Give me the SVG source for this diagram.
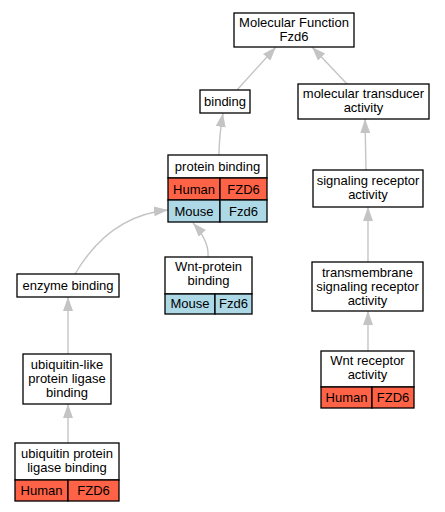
<svg xmlns="http://www.w3.org/2000/svg" width="445" height="512" viewBox="0 0 445 512">
<defs>
<style>
text{font-family:"Liberation Sans",Arial,sans-serif;font-size:13px;text-anchor:middle;fill:#000}
.box{fill:#fff;stroke:#000;stroke-width:1.3}
.hu{fill:#ff6347;stroke:#000;stroke-width:1.3}
.mo{fill:#add8e6;stroke:#000;stroke-width:1.3}
.e{fill:none;stroke:#c4c4c4;stroke-width:1.4}
</style>
<marker id="ah" viewBox="0 0 14 10" refX="14" refY="5" markerWidth="14" markerHeight="10" markerUnits="userSpaceOnUse" orient="auto">
<path d="M0,0 L14,5 L0,10 Z" fill="#c4c4c4"/>
</marker>
</defs>
<rect width="445" height="512" fill="#fff"/>
<g id="edges">
<path class="e" marker-end="url(#ah)" d="M237,90 L276,47"/>
<path class="e" marker-end="url(#ah)" d="M347,84 L312,47"/>
<path class="e" marker-end="url(#ah)" d="M219,155 C219,140 221,125 223,113"/>
<path class="e" marker-end="url(#ah)" d="M75,274 C95,240 125,214 168,210"/>
<path class="e" marker-end="url(#ah)" d="M208,257 C209,245 203,234 193,223"/>
<path class="e" marker-end="url(#ah)" d="M68,354 L68,297"/>
<path class="e" marker-end="url(#ah)" d="M68,443 L68,404"/>
<path class="e" marker-end="url(#ah)" d="M366,170 L365,119"/>
<path class="e" marker-end="url(#ah)" d="M368,262 L368,207"/>
<path class="e" marker-end="url(#ah)" d="M368,351 L368,311"/>
</g>
<g id="mf">
<rect class="box" x="234" y="13" width="120" height="34"/>
<text x="294" y="27">Molecular Function</text>
<text x="294" y="41">Fzd6</text>
</g>
<g id="binding">
<rect class="box" x="200" y="90" width="50" height="23"/>
<text x="225" y="106">binding</text>
</g>
<g id="mta">
<rect class="box" x="298" y="84" width="131" height="35"/>
<text x="363.5" y="98">molecular transducer</text>
<text x="363.5" y="112">activity</text>
</g>
<g id="pb">
<rect class="box" x="168" y="155" width="99" height="23"/>
<text x="217.5" y="171">protein binding</text>
<rect class="hu" x="168" y="178" width="52" height="22"/>
<rect class="hu" x="220" y="178" width="47" height="22"/>
<text x="194" y="194">Human</text>
<text x="243.5" y="194">FZD6</text>
<rect class="mo" x="168" y="200" width="52" height="22"/>
<rect class="mo" x="220" y="200" width="47" height="22"/>
<text x="194" y="216">Mouse</text>
<text x="243.5" y="216">Fzd6</text>
</g>
<g id="wpb">
<rect class="box" x="165" y="257" width="87" height="37"/>
<text x="208.5" y="271">Wnt-protein</text>
<text x="208.5" y="285">binding</text>
<rect class="mo" x="165" y="294" width="50" height="20"/>
<rect class="mo" x="215" y="294" width="37" height="20"/>
<text x="190" y="308">Mouse</text>
<text x="233.5" y="308">Fzd6</text>
</g>
<g id="eb">
<rect class="box" x="17" y="274" width="102" height="23"/>
<text x="68" y="290">enzyme binding</text>
</g>
<g id="ulb">
<rect class="box" x="23" y="354" width="88" height="50"/>
<text x="67" y="369">ubiquitin-like</text>
<text x="67" y="383">protein ligase</text>
<text x="67" y="397">binding</text>
</g>
<g id="uplb">
<rect class="box" x="15" y="443" width="104" height="37"/>
<text x="67" y="458">ubiquitin protein</text>
<text x="67" y="472">ligase binding</text>
<rect class="hu" x="15" y="480" width="53" height="21"/>
<rect class="hu" x="68" y="480" width="51" height="21"/>
<text x="41.5" y="495">Human</text>
<text x="93.5" y="495">FZD6</text>
</g>
<g id="sra">
<rect class="box" x="313" y="170" width="110" height="37"/>
<text x="368" y="185">signaling receptor</text>
<text x="368" y="199">activity</text>
</g>
<g id="tsra">
<rect class="box" x="312" y="262" width="111" height="49"/>
<text x="367.5" y="277">transmembrane</text>
<text x="367.5" y="291">signaling receptor</text>
<text x="367.5" y="305">activity</text>
</g>
<g id="wra">
<rect class="box" x="321" y="351" width="93" height="36"/>
<text x="367.5" y="365">Wnt receptor</text>
<text x="367.5" y="379">activity</text>
<rect class="hu" x="321" y="387" width="51" height="21"/>
<rect class="hu" x="372" y="387" width="42" height="21"/>
<text x="346.5" y="402">Human</text>
<text x="393" y="402">FZD6</text>
</g>
</svg>
